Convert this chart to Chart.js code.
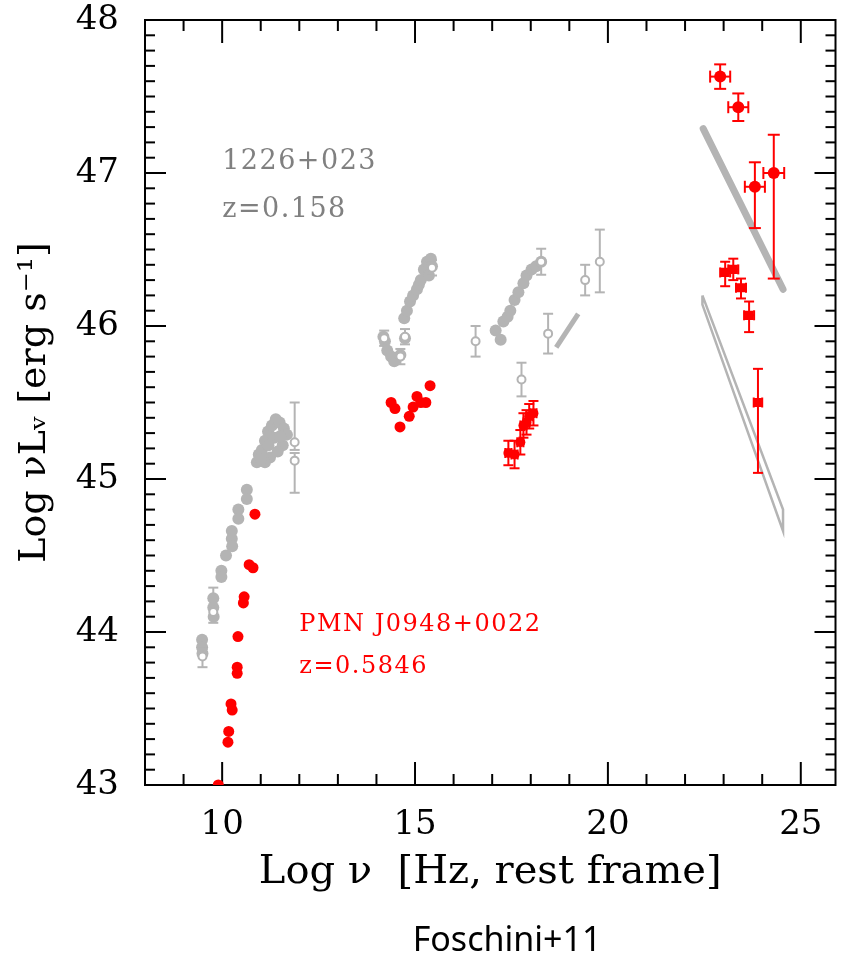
<!DOCTYPE html>
<html><head><meta charset="utf-8">
<script src="https://cdn.jsdelivr.net/npm/chart.js@4.4.0/dist/chart.umd.min.js"></script>
<style>
html,body{margin:0;padding:0;background:#fff}
#wrap{width:842px;height:958px;position:relative;overflow:hidden}
#cap{position:absolute;left:0;width:1014px;top:916px;text-align:center;font-family:"Noto Sans",sans-serif;font-size:34px;color:#000;line-height:44px}
</style>
</head><body>
<div id="wrap"><canvas id="c" width="842" height="958"></canvas><div id="cap">Foschini+11</div></div>
<script>
// ---------- tick labels ----------
const xTicks = [10, 15, 20, 25];
const yTicks = [43, 44, 45, 46, 47, 48];

// ---------- PMN J0948+0022 (red) ----------
const redRadioX = [9.90, 10.15, 10.17, 10.23, 10.26, 10.39, 10.39, 10.41, 10.57, 10.55, 10.70, 10.80, 10.85];
const redRadioY = [43.00, 43.28, 43.35, 43.53, 43.49, 43.77, 43.73, 43.97, 44.23, 44.19, 44.44, 44.42, 44.77];
const redOptX = [14.38, 14.48, 14.61, 14.85, 14.95, 15.05, 15.15, 15.28, 15.39];
const redOptY = [45.50, 45.46, 45.34, 45.41, 45.47, 45.54, 45.50, 45.50, 45.61];
const redXrayX = [17.42, 17.58, 17.73, 17.81, 17.89, 17.96, 18.07];
const redXrayY = [45.17, 45.16, 45.24, 45.35, 45.37, 45.41, 45.43];
const redXrayErr = [0.08, 0.09, 0.08, 0.08, 0.08, 0.08, 0.08];
const redXrayXErr = [0.08, 0.08, 0.08, 0.08, 0.08, 0.08, 0.08];
const redGamCircX = [22.91, 23.38, 23.81, 24.30];
const redGamCircY = [47.63, 47.43, 46.91, 47.00];
const redGamCircUp = [0.08, 0.09, 0.16, 0.25];
const redGamCircDn = [0.08, 0.09, 0.27, 0.69];
const redGamCircXErr = [0.26, 0.26, 0.26, 0.27];
const redGamSqX = [23.04, 23.25, 23.45, 23.66, 23.89];
const redGamSqY = [46.35, 46.37, 46.25, 46.07, 45.50];
const redGamSqUp = [0.07, 0.07, 0.06, 0.09, 0.22];
const redGamSqDn = [0.09, 0.07, 0.07, 0.11, 0.46];
const redGamSqXErr = [0.13, 0.13, 0.13, 0.13, 0.11];

// ---------- 1226+023 (grey) ----------
const greyDenseX = [9.48, 9.48, 9.49, 9.77, 9.77, 9.78, 9.98, 9.98, 10.10, 10.25, 10.25, 10.26, 10.42, 10.42, 10.64, 10.64,
  10.90, 10.95, 11.03, 11.11, 11.19, 11.29, 11.39, 11.49, 11.60, 11.68, 11.57, 11.44, 11.24, 11.11, 11.35, 11.50, 11.00, 11.20,
  14.18, 14.22, 14.28, 14.38, 14.46, 14.51, 14.62, 14.74,
  14.72, 14.79, 14.87, 14.95, 15.05, 15.10, 15.15, 15.23, 15.31, 15.41, 15.44, 15.36,
  17.09, 17.22, 17.29, 17.40, 17.47, 17.58, 17.68, 17.81, 17.89, 18.02, 18.14, 18.27];
const greyDenseY = [43.95, 43.90, 43.86, 44.22, 44.16, 44.10, 44.40, 44.36, 44.50, 44.66, 44.61, 44.56, 44.80, 44.74, 44.93, 44.87,
  45.11, 45.16, 45.19, 45.25, 45.31, 45.35, 45.39, 45.37, 45.33, 45.29, 45.22, 45.18, 45.14, 45.11, 45.27, 45.28, 45.13, 45.22,
  45.93, 45.90, 45.84, 45.80, 45.77, 45.79, 45.81, 45.92,
  46.05, 46.10, 46.16, 46.20, 46.24, 46.27, 46.30, 46.37, 46.42, 46.44, 46.39, 46.33,
  45.97, 45.91, 46.03, 46.06, 46.10, 46.17, 46.22, 46.28, 46.33, 46.37, 46.39, 46.42];
const greyErrX = [9.49, 9.77, 11.88, 11.88, 14.20, 14.74, 14.62, 15.44, 16.57, 17.76, 18.45, 19.41, 19.79, 18.27];
const greyErrY = [43.84, 44.13, 45.24, 45.12, 45.92, 45.93, 45.80, 46.38, 45.90, 45.65, 45.95, 46.30, 46.42, 46.42];
const greyErrUp = [0.05, 0.16, 0.26, 0.05, 0.05, 0.05, 0.05, 0.05, 0.10, 0.11, 0.13, 0.10, 0.21, 0.085];
const greyErrDn = [0.07, 0.07, 0.05, 0.21, 0.05, 0.05, 0.05, 0.05, 0.10, 0.11, 0.13, 0.10, 0.20, 0.085];

// grey butterflies (spectral bow-ties)
const xrayBowX = [18.66, 19.23];
const xrayBowY = [45.86, 46.08];
const gamUpperBowX = [22.47, 24.54];
const gamUpperBowY = [47.29, 46.24];
const gamLowerBowX = [22.45, 24.54, 24.54, 22.45, 22.45];
const gamLowerBowY = [46.20, 44.80, 44.66, 46.14, 46.20];

// ---------- build ----------
const pts = (xs, ys, up, dn, xe) => xs.map((x, i) => ({
  x, y: ys[i],
  up: up ? up[i] : null, dn: dn ? dn[i] : null, xe: xe ? xe[i] : null
}));

const RED = '#ff0000';
const GREY = '#b4b4b4';

const errorBars = {
  id: 'errorBars',
  beforeDatasetDraw(chart, args) {
    const ds = chart.data.datasets[args.index];
    const eb = ds.errorBar;
    if (!eb) return;
    const { ctx } = chart;
    const xs = chart.scales.x, ys = chart.scales.y;
    ctx.save();
    ctx.strokeStyle = eb.color;
    ctx.lineWidth = eb.width;
    ctx.lineCap = 'butt';
    const seg = (a, b, c, d) => { ctx.beginPath(); ctx.moveTo(a, b); ctx.lineTo(c, d); ctx.stroke(); };
    ds.data.forEach(p => {
      const px = xs.getPixelForValue(p.x), py = ys.getPixelForValue(p.y);
      if (p.up != null || p.dn != null) {
        const t = ys.getPixelForValue(p.y + (p.up || 0));
        const b = ys.getPixelForValue(p.y - (p.dn || 0));
        seg(px, t, px, b);
        if (p.up) seg(px - eb.cap, t, px + eb.cap, t);
        if (p.dn) seg(px - eb.cap, b, px + eb.cap, b);
      }
      if (p.xe) {
        const l = xs.getPixelForValue(p.x - p.xe), r = xs.getPixelForValue(p.x + p.xe);
        seg(l, py, r, py);
        seg(l, py - eb.cap, l, py + eb.cap);
        seg(r, py - eb.cap, r, py + eb.cap);
      }
    });
    ctx.restore();
  }
};

const frameTicks = {
  id: 'frameTicks',
  beforeDatasetsDraw(chart) {
    const { ctx, chartArea: a } = chart;
    const xs = chart.scales.x, ys = chart.scales.y;
    ctx.save();
    ctx.strokeStyle = '#000';
    ctx.lineWidth = 2;
    const seg = (p, q, r, s) => { ctx.beginPath(); ctx.moveTo(p, q); ctx.lineTo(r, s); ctx.stroke(); };
    for (let v = Math.ceil(xs.min); v <= xs.max; v += 1) {
      const px = xs.getPixelForValue(v);
      const L = (v % 5 === 0) ? 23 : 11;
      seg(px, a.bottom, px, a.bottom - L);
      seg(px, a.top, px, a.top + L);
    }
    for (let i = Math.round(ys.min * 10); i <= Math.round(ys.max * 10); i++) {
      const py = ys.getPixelForValue(i / 10);
      const L = (i % 10 === 0) ? 21 : 10;
      seg(a.left, py, a.left + L, py);
      seg(a.right, py, a.right - L, py);
    }
    ctx.strokeRect(a.left, a.top, a.right - a.left, a.bottom - a.top);
    ctx.restore();
  }
};

const labels = {
  id: 'labels',
  afterDraw(chart, args, opts) {
    const { ctx } = chart;
    const xs = chart.scales.x, ys = chart.scales.y;
    ctx.save();
    ctx.textBaseline = 'middle';
    ctx.textAlign = 'left';
    opts.items.forEach(it => {
      ctx.fillStyle = it.color;
      ctx.font = it.font;
      ctx.letterSpacing = it.spacing || '0px';
      ctx.fillText(it.text, xs.getPixelForValue(it.x), ys.getPixelForValue(it.y));
    });
    ctx.restore();
  }
};

const serif = '"DejaVu Serif", serif';

new Chart(document.getElementById('c'), {
  type: 'scatter',
  data: {
    datasets: [
      { data: pts(redRadioX, redRadioY), pointStyle: 'circle', pointRadius: 5.5, backgroundColor: RED, borderColor: RED, borderWidth: 0 },
      { data: pts(redOptX, redOptY), pointStyle: 'circle', pointRadius: 5.5, backgroundColor: RED, borderColor: RED, borderWidth: 0 },
      { data: pts(redXrayX, redXrayY, redXrayErr, redXrayErr, redXrayXErr), pointStyle: 'circle', pointRadius: 5, backgroundColor: RED, borderColor: RED, borderWidth: 0,
        errorBar: { color: RED, width: 2, cap: 5 } },
      { data: pts(redGamCircX, redGamCircY, redGamCircUp, redGamCircDn, redGamCircXErr), pointStyle: 'circle', pointRadius: 6, backgroundColor: RED, borderColor: RED, borderWidth: 0,
        errorBar: { color: RED, width: 2, cap: 6 } },
      { data: pts(redGamSqX, redGamSqY, redGamSqUp, redGamSqDn, redGamSqXErr), pointStyle: 'rect', pointRadius: 6.5, backgroundColor: RED, borderColor: RED, borderWidth: 0,
        errorBar: { color: RED, width: 2, cap: 5 } },
      { data: pts(greyErrX, greyErrY, greyErrUp, greyErrDn), pointStyle: 'circle', pointRadius: 4, backgroundColor: '#ffffff', borderColor: GREY, borderWidth: 2,
        errorBar: { color: GREY, width: 2, cap: 5 } },
      { data: pts(greyDenseX, greyDenseY), pointStyle: 'circle', pointRadius: 6, backgroundColor: GREY, borderColor: GREY, borderWidth: 0 },
      { data: pts(xrayBowX, xrayBowY), showLine: true, pointRadius: 0, borderColor: GREY, borderWidth: 5, borderCapStyle: 'butt' },
      { data: pts(gamUpperBowX, gamUpperBowY), showLine: true, pointRadius: 0, borderColor: GREY, borderWidth: 7, borderCapStyle: 'round' },
      { data: pts(gamLowerBowX, gamLowerBowY), showLine: true, pointRadius: 0, borderColor: GREY, borderWidth: 2.5, borderJoinStyle: 'miter' }
    ]
  },
  options: {
    responsive: false,
    devicePixelRatio: 1,
    animation: false,
    events: [],
    layout: { padding: { left: 8, right: 4, top: 20, bottom: 56 } },
    plugins: {
      legend: { display: false },
      tooltip: { enabled: false },
      labels: {
        items: [
          { text: '1226+023', x: 10.0, y: 47.07, color: '#808080', font: '27px ' + serif, spacing: '1.5px' },
          { text: 'z=0.158', x: 10.0, y: 46.76, color: '#808080', font: '27px ' + serif, spacing: '1.5px' },
          { text: 'PMN J0948+0022', x: 12.0, y: 44.05, color: RED, font: '24px ' + serif, spacing: '1.5px' },
          { text: 'z=0.5846', x: 12.0, y: 43.77, color: RED, font: '24px ' + serif, spacing: '1.5px' }
        ]
      }
    },
    scales: {
      x: {
        type: 'linear', min: 8, max: 25.9,
        afterBuildTicks: s => { s.ticks = xTicks.map(v => ({ value: v })); },
        afterFit: s => { s.height = 117; s.paddingLeft = 0; s.paddingRight = 0; },
        grid: { display: false, drawTicks: false },
        border: { display: false },
        ticks: { color: '#000', font: { family: serif, size: 34 }, padding: 20, maxRotation: 0, autoSkip: false },
        title: { display: true, text: 'Log ν  [Hz, rest frame]', color: '#000', font: { family: serif, size: 40 }, padding: { top: 0, bottom: 5 } }
      },
      y: {
        type: 'linear', min: 43, max: 48,
        afterBuildTicks: s => { s.ticks = yTicks.map(v => ({ value: v })); },
        afterFit: s => { s.width = 137; s.paddingTop = 0; s.paddingBottom = 0; },
        grid: { display: false, drawTicks: false },
        border: { display: false },
        ticks: { color: '#000', font: { family: serif, size: 34 }, padding: 26, autoSkip: false },
        title: { display: true, text: 'Log νLᵥ [erg s⁻¹]', color: '#000', font: { family: serif, size: 38 }, padding: { top: 4, bottom: 0 } }
      }
    }
  },
  plugins: [frameTicks, errorBars, labels]
});
</script>
</body></html>
